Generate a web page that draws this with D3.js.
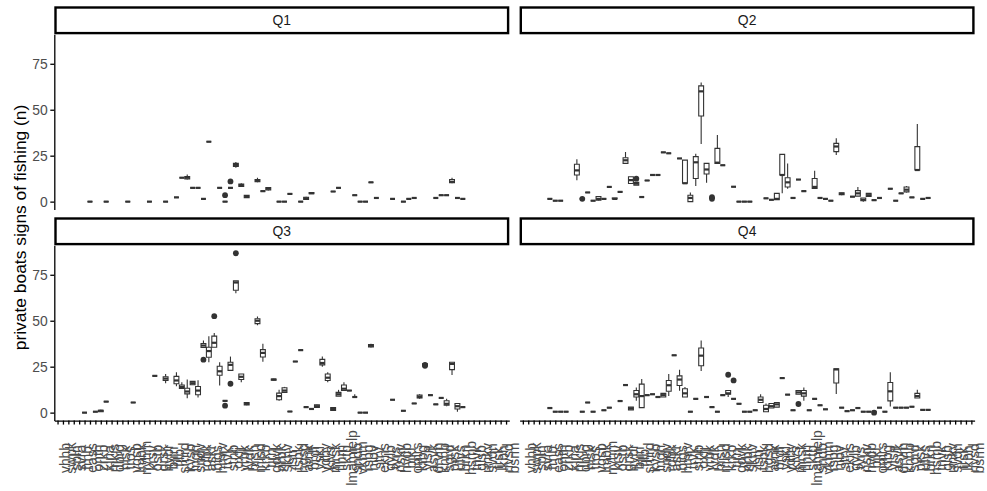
<!DOCTYPE html>
<meta charset="utf-8">
<style>
body { margin: 0; background: #fff; }
text { font-family: "Liberation Sans", Arial, sans-serif; }
</style>
<body>
<script src="https://cdn.jsdelivr.net/npm/d3@7"></script>
<script>

// site codes along the x axis (unreadable in the source, 84 categories)
var sites = ["vhhb","swpk","spln","svra","frnb","eass","onth","zrkb","klna","mkjs",
  "dbrg","hlsk","tros","vgsb","lmbk","nyhm","krsv","ostb","grsk","hvbr",
  "bjrn","fjlb","smrd","kvsb","lngh","sndv","rdbk","askr","blgs","hmrv",
  "trvk","stnb","oxfj","vrbk","lydk","hrsn","mlsd","krkb","tjrn","gdvk",
  "nrbk","skhv","lstr","fsbk","hgsd","arnk","brdf","vskl","ydby","klvs",
  "mrsk","flhm","sktb","lmamielp","sndb","vkhm","rsbg","hlbv","strv","ekns",
  "gvlb","tyrs","nskv","hvdb","bjkl","omrs","ktbg","vlsn","asvk","drvm",
  "knhb","sgrd","prsk","ulvs","brkn","hsmb","tnvk","glsb","rmkv","svdn",
  "frsk","lkbh","nvsd","bsrm"];

var quarters = ["Q1", "Q2", "Q3", "Q4"];
var yTicks = [0, 25, 50, 75];

// [site index, lower whisker, q1, median, q3, upper whisker, ...outliers]
// [site index, value] = all observations equal
var q1Boxes = [[6,0],[9,0],[13,0],[17,0],[20,0],[22,2.3],[23,13],[24,12,12.3,13,13.6,14.8],
  [25,7.5],[26,7.5],[27,1.5],[28,32.6],[30,7.5],[31,0,0,0,0,0,3.5],[32,7.5,7.5,7.5,7.5,7.5,11],
  [33,18.5,19.2,20,20.8,21.5],[34,8,8.3,9,9.6,10],[35,2,2.2,2.8,3.4,3.5],[37,10.5,10.8,11.3,12,13],
  [38,5.7],[39,6,6.3,7,7.6,8],[41,0],[42,0],[43,4.2],[45,0],[46,1,1.2,1.8,2.4,2.6],[47,4.3,4.3,4.6,5,5],
  [51,5.5],[52,7.5],[55,3.5],[56,0],[57,0],[58,10.5],[59,2],[62,1.5],[64,0],[65,1.5],[66,2],
  [70,2],[71,3.5],[72,3.5],[73,10,10.3,10.8,12,13],[74,2],[75,1.5]];

var q2Boxes = [[5,1.5],[6,0.5],[7,0.5],[10,11.7,14.5,17,20.3,23],[11,1.5,1.5,1.5,1.5,1.5,1.5],
  [12,5],[13,0.5],[14,0.5,0.8,1.5,2.8,3],[15,1.5],[16,8],[17,1.5,1.5,1.5,2,2],[18,5.3],
  [19,20.8,20.8,22.5,23.9,27],[20,9.9,9.9,11.7,13.5,13.5],[21,9,9,9.8,10.5,10.5,12.5],
  [22,2.5],[23,11.5],[24,14.5],[25,14.5],[26,26.8],[27,26.3],[29,23.5],[30,10,10,10,22.6,22.6],
  [31,0,0,2,3.5,5],[32,8.5,12.6,21.4,24.5,26],[33,31.4,46.6,60,63,64.8],[34,10.3,15,17.5,20.8,20.8],
  [35,2,2,2,2,2,2.5,1.5],[36,20.8,20.8,21.2,29,36.3],[37,19.8],[39,8.1],[40,0],[41,0],[42,0],
  [45,1.8],[46,1],[47,1,1,1.5,4.5,4.5],[48,4.6,14.5,14.5,25.7,25.7],[49,7,8,10.5,13,20.8],
  [50,2],[51,12],[52,5.7],[54,7.2,7.2,8,12.6,16.8],[55,2],[56,1.5],[57,0.5],
  [58,25.4,27.2,30,31.7,34.5],[59,3.5,3.8,4.3,4.8,5],[61,2.7],[62,3,3,4.5,6,8],[63,0,0.5,1,2,2],
  [64,2.5,2.8,3.5,4.5,4.5],[65,0.8],[66,2],[68,7],[69,0.5],[70,4.5],[71,5,5.3,6.5,8,8.5],[72,2.3],
  [73,17.2,17.2,17.2,29.9,42.3],[74,1.5],[75,2]];

var q3Boxes = [[5,0],[7,0.5],[8,0.3,0.5,1,1.3,1.5],[9,6],[14,5.5],[18,20],[20,16,17.5,18.5,19.5,21],
  [22,14.3,15.7,17.5,19.7,22],[23,13,13.2,14,15,16.5],[24,7.8,10.2,11.5,13.3,18],[25,15,15.2,16,17,17],
  [26,8.2,9.7,12,14.2,17.6],[27,35.4,35.4,36.5,37.6,39.3,28.8],[28,27.4,30.1,33.5,35.6,41.6],
  [29,35.6,35.6,38,41.6,43.3,52.5],[30,14.8,20.3,22.5,25.2,27.4],[31,6.4,6.4,6.4,6.4,6.4,3.8],
  [32,23,23,26,27.4,30.5,15.7],[33,65,66.6,70.8,71.7,71.7,86.7],[34,16.5,18,19.5,21,21],
  [35,4,4.2,4.8,5.5,5.5],[37,47.5,48.4,50,51.1,52.3],[38,27.7,30.3,32.5,34.3,37.5],
  [40,17.5,17.7,18,18.3,18.5],[41,6.4,7,9,10.6,12.4],[42,11,11,12,13.5,14],[43,0.6],[44,27.8],
  [45,34],[46,3],[47,2],[48,2.5,2.8,3.5,4.3,4.5],[49,25,26,27,29,30.5],[50,16.5,17.5,19,21,22],
  [51,1,1.2,2,2.8,3],[52,9,9,10,11,12.4],[53,12,12,13,15,16.5],[54,12],[55,8.5,8.5,8.5,8.5,10],
  [56,0],[57,0],[58,35.5,35.8,36.4,37,37.5],[62,7],[64,1],[66,5],[67,7.5,8,8.5,9.5,10],
  [68,25,25.5,26,26.5,27,26,25.5],[69,9.5],[70,4.5],[71,8],[72,3.5,4,4.8,6.5,7.5],
  [73,20.5,23.4,26.5,27.4,27.4],[74,0.5,2,3.5,5,5],[75,3]];

var q4Boxes = [[5,2.5],[6,0.5],[7,0.5],[8,0.5],[11,0.5],[12,5.5],[13,0.5],[15,1.3],[16,2.7],
  [18,6.3],[19,15],[20,1.5,1.5,2.3,3,3],[21,6.4,8.5,10,12,13.7],[22,2.7,2.7,9,15.5,18.3],
  [23,9.5],[24,10],[25,8.5],[26,8.5,8.5,9.5,10.5,10.5],[27,9,11.6,14.9,17.5,21],[28,31.2],
  [29,11.9,14.8,18,20,23.3],[30,8.5,8.5,10.5,13,14],[31,0.5],[32,7.5],[33,22.6,25.5,31,35.2,39.3],
  [34,8.5],[35,3],[36,0.5],[37,9.5],[38,8.5,10,10.5,12,12,20.6],[39,7.5,7.5,7.5,7.5,7.5,17.5],
  [40,4.8],[41,0.5],[42,0.5],[43,1.3],[44,5.5,5.5,7,8.5,10],[45,0.5,0.5,2,4,5],[46,2.5,2.5,3.5,5,5],
  [47,3,3,4.5,5.5,5.5],[48,18.8],[49,9.8],[50,1.3],[51,10,10,11,12,12,4.7],[52,6.4,9,10.5,12,13.7],
  [53,1.3],[54,7.5],[55,4],[56,1.8],[58,10.2,16.1,23.5,23.9,23.9],[59,2.7],[60,0.8],[61,1.3],
  [62,2.5],[63,0.5],[64,0.5],[65,0.5,0.5,0.5,0.5,0.5,0],[66,2.7],[67,0.5],
  [68,3.3,6.4,11.6,16.4,22],[69,2.7],[70,2.7],[71,2.7],[72,3.2],[73,8,8,9,10.5,12.4],[74,1.5],[75,1.5]];

var boxSets = [q1Boxes, q2Boxes, q3Boxes, q4Boxes];

var width = 987, height = 491;
var marginLeft = 54.3, panelW = 455, gapX = 10.3,
    marginTop = 6.3, stripH = 28, panelH = 175.3, gapY = 7.7;
var textSize = "13.9px";

// turn the short rows into box objects
function toBox(r) {
  if (r.length == 2) return {site: sites[r[0]], lo: r[1], q1: r[1], md: r[1], q3: r[1], hi: r[1], out: []};
  return {site: sites[r[0]], lo: r[1], q1: r[2], md: r[3], q3: r[4], hi: r[5], out: r.slice(6)};
}
var boxes = boxSets.map(function(s) { return s.map(toBox); });

var yMax = d3.max(boxSets, function(s) { return d3.max(s, function(r) { return d3.max(r.slice(1)); }); });

var y = d3.scaleLinear().domain([-0.05 * yMax, 1.05 * yMax]).range([panelH, 0]);
var x = d3.scalePoint().domain(sites).range([0, panelW]).padding(0.6);
var bw = x.step() * 0.9;

var svg = d3.select("body").append("svg")
  .attr("width", width)
  .attr("height", height);

quarters.forEach(function(q, k) {
  var col = k % 2, row = Math.floor(k / 2);
  var gx = marginLeft + col * (panelW + gapX);
  var gy = marginTop + row * (stripH + panelH + gapY);

  // strip
  var strip = svg.append("g").attr("transform", "translate(" + gx + "," + gy + ")");
  strip.append("rect")
    .attr("x", 1.2).attr("y", 1.2)
    .attr("width", panelW - 2.4).attr("height", stripH - 2.4)
    .attr("fill", "#fff").attr("stroke", "#000").attr("stroke-width", 2.4);
  strip.append("text")
    .attr("x", panelW / 2).attr("y", stripH / 2 + 5)
    .attr("text-anchor", "middle")
    .attr("font-size", textSize).attr("fill", "#1a1a1a")
    .text(q);

  var g = svg.append("g").attr("transform", "translate(" + gx + "," + (gy + stripH) + ")");

  if (col == 0) {
    var ya = g.append("g").call(d3.axisLeft(y).tickValues(yTicks).tickSize(4).tickSizeOuter(0).tickPadding(2.5));
    ya.selectAll("path, line").attr("stroke", "#000").attr("stroke-width", 1.3);
    ya.selectAll("text").attr("fill", "#4d4d4d").attr("font-size", textSize)
      .attr("font-family", "Liberation Sans, Arial, sans-serif");
  }
  if (row == 1) {
    var xa = g.append("g").attr("transform", "translate(0," + panelH + ")")
      .call(d3.axisBottom(x).tickSize(4).tickSizeOuter(0));
    xa.selectAll("path, line").attr("stroke", "#000").attr("stroke-width", 1.3);
    xa.selectAll("text")
      .attr("x", 0).attr("y", 0).attr("dy", "0.88em")
      .attr("transform", "translate(0,37.4) rotate(-90)")
      .attr("text-anchor", "middle")
      .attr("fill", "#4d4d4d").attr("font-size", textSize)
      .attr("font-family", "Liberation Sans, Arial, sans-serif");
  }

  var b = g.selectAll(".box").data(boxes[k]).enter().append("g").attr("class", "box")
    .attr("transform", function(d) { return "translate(" + x(d.site) + ",0)"; });

  b.append("path")
    .attr("d", function(d) { return "M0," + y(d.hi) + "V" + y(d.q3) + "M0," + y(d.q1) + "V" + y(d.lo); })
    .attr("stroke", "#333").attr("stroke-width", 1.1).attr("fill", "none");
  b.append("path")
    .attr("d", function(d) {
      return "M" + (-bw / 2) + "," + y(d.q3) + "H" + (bw / 2) + "V" + y(d.q1) + "H" + (-bw / 2) + "Z";
    })
    .attr("fill", "#fff").attr("stroke", "#333").attr("stroke-width", 1.1);
  b.append("line")
    .attr("x1", -bw / 2).attr("x2", bw / 2)
    .attr("y1", function(d) { return y(d.md); }).attr("y2", function(d) { return y(d.md); })
    .attr("stroke", "#333").attr("stroke-width", 2.2);
  b.selectAll("circle").data(function(d) { return d.out; }).enter().append("circle")
    .attr("cx", 0).attr("cy", function(v) { return y(v); })
    .attr("r", 2.9).attr("fill", "#333");
});

// title is centred over the panels (top of first panel to bottom of last)
var panelsMid = marginTop + stripH + (panelH + gapY + stripH + panelH) / 2;
svg.append("text")
  .attr("transform", "translate(25.5," + panelsMid + ") rotate(-90)")
  .attr("text-anchor", "middle")
  .attr("font-size", "17.4px").attr("fill", "#000")
  .text("private boats signs of fishing (n)");

</script>
</body>
</html>
